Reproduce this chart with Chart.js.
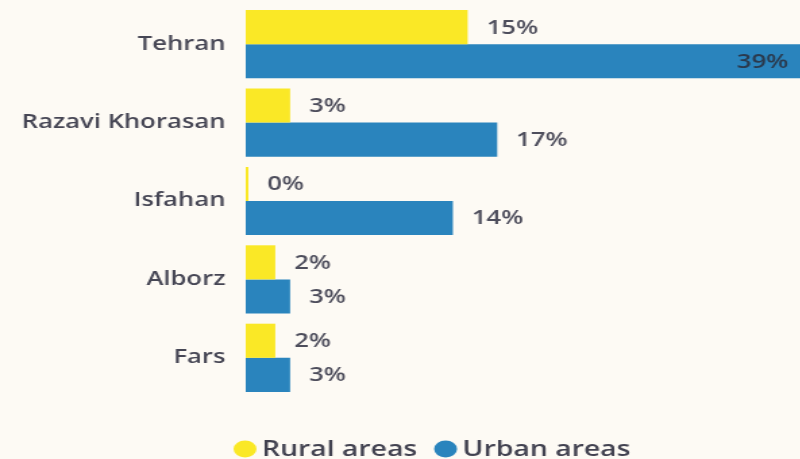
<!DOCTYPE html>
<html>
<head>
<meta charset="utf-8">
<script src="https://cdn.jsdelivr.net/npm/chart.js@4"></script>
<style>
  html, body { margin: 0; padding: 0; background: #fdfaf4; overflow: hidden; }
  #wrap { width: 593px; height: 459px; transform: scaleX(1.35); transform-origin: 0 0; }
</style>
</head>
<body>
<div id="wrap"><canvas id="myChart" width="593" height="459"></canvas></div>
<script>
// provinces and share of each area type (%)
const provinces = ["Tehran", "Razavi Khorasan", "Isfahan", "Alborz", "Fars"];
const rural = [15, 3, 0, 2, 2];
const urban = [39, 17, 14, 3, 3];

const seriesNames = ["Rural areas", "Urban areas"];
const seriesColors = ["#fae826", "#2a84bd"];

const FONT = "'Open Sans', 'Noto Sans', sans-serif";

// 📌 value labels after each bar (or inside when the bar runs off the edge)
const valueLabels = {
  id: "valueLabels",
  afterDatasetsDraw(chart) {
    const ctx = chart.ctx;
    const area = chart.chartArea;
    ctx.save();
    ctx.font = "600 19px " + FONT;
    ctx.textBaseline = "middle";
    chart.data.datasets.forEach((ds, i) => {
      chart.getDatasetMeta(i).data.forEach((bar, j) => {
        const text = ds.data[j] + "%";
        const w = ctx.measureText(text).width;
        if (bar.x + 15 + w > area.right) {
          ctx.fillStyle = "#2a3a4e";
          ctx.textAlign = "right";
          ctx.fillText(text, Math.min(bar.x, area.right) - 9, bar.y + 1);
        } else {
          ctx.fillStyle = "#4e4e5c";
          ctx.textAlign = "left";
          ctx.fillText(text, bar.x + 14, bar.y + 1);
        }
      });
    });
    ctx.restore();
  }
};

// 🟡🔵 legend with round markers under the bars
const dotLegend = {
  id: "dotLegend",
  afterDraw(chart) {
    const ctx = chart.ctx;
    const y = 449;
    let x = chart.chartArea.left - 9;
    ctx.save();
    ctx.font = "600 21px " + FONT;
    ctx.textBaseline = "middle";
    ctx.textAlign = "left";
    chart.data.datasets.forEach(ds => {
      ctx.fillStyle = ds.backgroundColor;
      ctx.beginPath();
      ctx.arc(x + 8.5, y, 8.5, 0, Math.PI * 2);
      ctx.fill();
      ctx.fillStyle = "#424250";
      ctx.fillText(ds.label, x + 21, y + 1);
      x += 21 + ctx.measureText(ds.label).width + 12.5;
    });
    ctx.restore();
  }
};

const ctx = document.getElementById("myChart");

new Chart(ctx, {
  type: "bar",
  data: {
    labels: provinces,
    datasets: [{
      label: seriesNames[0],
      data: rural,
      backgroundColor: seriesColors[0],
      minBarLength: 2,
      categoryPercentage: 0.87,
      barPercentage: 1.0
    }, {
      label: seriesNames[1],
      data: urban,
      backgroundColor: seriesColors[1],
      categoryPercentage: 0.87,
      barPercentage: 1.0
    }]
  },
  options: {
    indexAxis: "y",
    responsive: false,
    animation: false,
    layout: { padding: { top: 5, bottom: 62, left: 0, right: 0 } },
    plugins: {
      legend: { display: false },
      tooltip: { enabled: false }
    },
    scales: {
      x: {
        display: false,
        min: 0,
        max: 37.5
      },
      y: {
        grid: { display: false },
        border: { display: false },
        ticks: {
          color: "#464654",
          padding: 7,
          font: { family: FONT, size: 19, weight: "600" }
        },
        afterFit(scale) {
          scale.width = 182;
          scale.paddingTop = 0;
          scale.paddingBottom = 0;
        }
      }
    }
  },
  plugins: [valueLabels, dotLegend]
});
</script>
</body>
</html>
